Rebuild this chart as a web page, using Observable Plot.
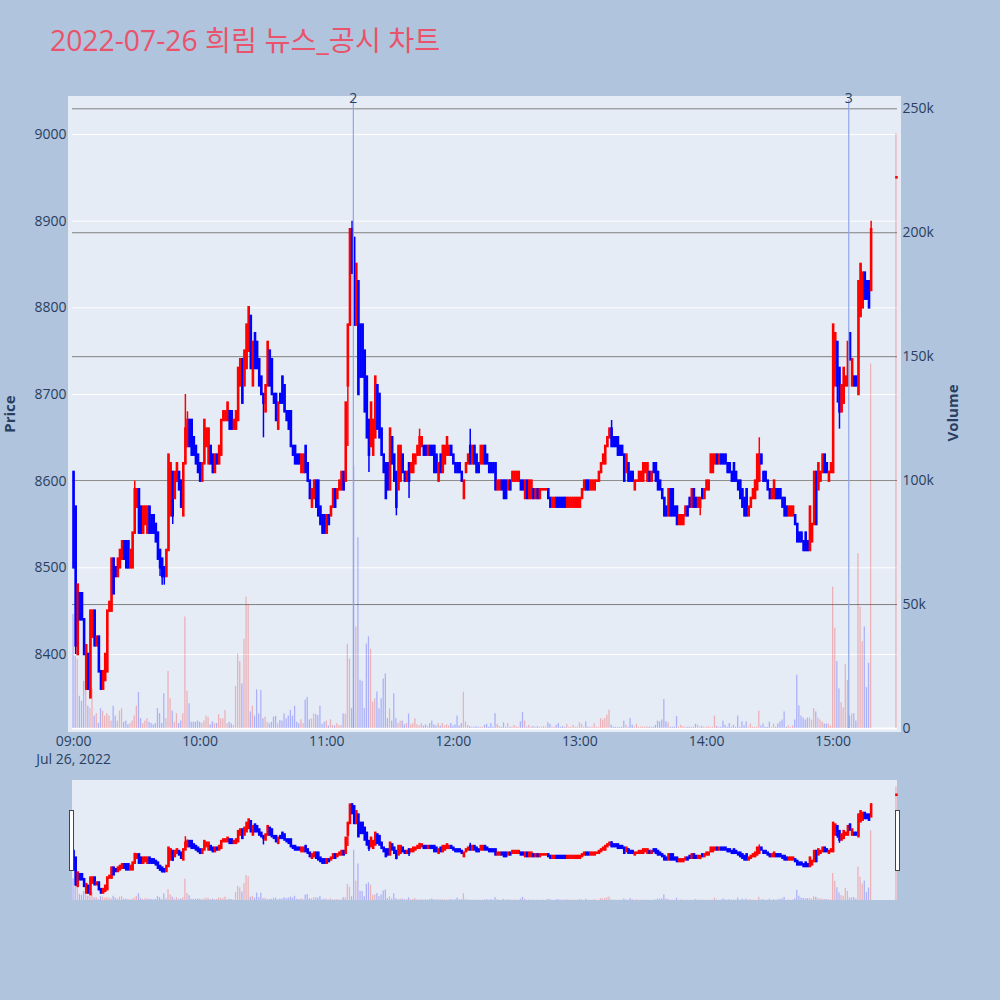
<!DOCTYPE html>
<html><head><meta charset="utf-8">
<script src="https://cdn.jsdelivr.net/npm/d3@7"></script>
<script src="https://cdn.jsdelivr.net/npm/@observablehq/plot@0.6"></script>
<style>
body{margin:0;background:#B0C4DE;}
#page{position:relative;width:1000px;height:1000px;overflow:hidden;background:#B0C4DE;}
.layer{position:absolute;left:0;top:0;}
.layer svg{display:block;overflow:visible;}
.box{position:absolute;}
</style></head>
<body><div id="page"></div>
<script>
// ---- data (minute index from 09:00) ----
const opens = [
8610,8570,8400,8470,8470,8440,8360,8400,8350,8420,
8450,8410,8420,8380,8360,8370,8380,8450,8450,8510,
8500,8490,8500,8510,8530,8530,8530,8500,8500,8540,
8570,8590,8570,8540,8550,8540,8570,8560,8560,8550,
8540,8520,8510,8500,8490,8520,8560,8610,8580,8600,
8610,8600,8560,8620,8640,8670,8670,8650,8640,8630,
8620,8600,8620,8640,8620,8640,8630,8610,8630,8620,
8630,8670,8670,8670,8680,8680,8660,8660,8670,8710,
8740,8710,8730,8750,8790,8710,8770,8760,8740,8720,
8700,8680,8710,8750,8740,8700,8700,8660,8700,8720,
8710,8680,8680,8680,8640,8640,8630,8630,8610,8610,
8640,8620,8600,8570,8580,8600,8600,8570,8560,8560,
8540,8560,8560,8570,8590,8580,8590,8590,8610,8600,
8710,8780,8890,8880,8780,8830,8780,8780,8750,8720,
8670,8640,8630,8650,8710,8700,8660,8630,8620,8620,
8590,8650,8630,8610,8590,8600,8630,8610,8600,8620,
8610,8610,8620,8630,8630,8640,8640,8640,8630,8640,
8640,8640,8630,8600,8630,8610,8620,8630,8630,8640,
8630,8620,8620,8620,8610,8580,8610,8620,8640,8620,
8640,8630,8620,8620,8620,8640,8630,8620,8620,8620,
8620,8590,8590,8600,8600,8600,8590,8600,8600,8600,
8600,8600,8600,8600,8580,8600,8580,8580,8590,8580,
8590,8580,8590,8590,8590,8590,8580,8570,8570,8580,
8580,8580,8580,8580,8570,8570,8570,8570,8570,8570,
8570,8580,8590,8600,8600,8590,8590,8590,8600,8600,
8610,8620,8620,8640,8650,8660,8650,8650,8650,8640,
8640,8630,8610,8620,8610,8610,8590,8600,8600,8600,
8600,8610,8600,8610,8600,8620,8620,8610,8600,8590,
8580,8570,8560,8590,8590,8570,8570,8550,8550,8550,
8560,8570,8580,8570,8590,8580,8570,8570,8590,8580,
8590,8590,8610,8610,8620,8630,8620,8630,8630,8630,
8620,8620,8610,8620,8610,8600,8600,8590,8580,8590,
8560,8570,8580,8580,8590,8600,8630,8610,8610,8600,
8590,8580,8580,8590,8590,8590,8580,8580,8570,8560,
8560,8560,8560,8550,8540,8540,8530,8540,8530,8520,
8530,8550,8610,8590,8600,8610,8630,8620,8600,8610,
8610,8710,8760,8730,8680,8690,8710,8710,8770,8710,
8720,8720,8700,8790,8800,8840,8830,8830,8820];
const closes = [
8500,8410,8480,8440,8440,8400,8410,8360,8450,8450,
8410,8420,8380,8360,8380,8400,8450,8460,8510,8470,
8490,8510,8520,8530,8510,8500,8500,8520,8540,8590,
8590,8540,8540,8570,8570,8570,8540,8540,8540,8530,
8510,8500,8490,8490,8520,8630,8620,8560,8610,8620,
8590,8570,8620,8660,8670,8640,8630,8630,8620,8610,
8600,8620,8670,8660,8660,8620,8610,8630,8620,8640,
8670,8680,8680,8690,8660,8660,8670,8680,8730,8740,
8690,8750,8780,8800,8730,8760,8730,8730,8710,8700,
8690,8710,8760,8710,8700,8690,8670,8690,8690,8690,
8680,8670,8660,8640,8630,8620,8620,8620,8630,8630,
8610,8600,8580,8590,8600,8570,8560,8550,8540,8540,
8560,8550,8570,8590,8570,8590,8600,8610,8590,8690,
8780,8890,8840,8780,8850,8700,8720,8720,8680,8650,
8630,8690,8670,8720,8660,8650,8630,8610,8580,8590,
8660,8620,8600,8570,8640,8640,8610,8600,8610,8600,
8620,8630,8630,8640,8650,8650,8630,8630,8640,8630,
8630,8610,8610,8620,8610,8640,8640,8650,8640,8630,
8620,8610,8610,8610,8600,8600,8620,8630,8620,8640,
8620,8610,8610,8640,8640,8620,8620,8610,8610,8610,
8590,8600,8600,8590,8580,8580,8600,8590,8610,8610,
8610,8610,8590,8590,8600,8580,8600,8600,8580,8590,
8580,8590,8590,8590,8590,8580,8570,8580,8580,8570,
8570,8570,8570,8570,8580,8580,8580,8580,8580,8580,
8580,8590,8600,8590,8590,8600,8600,8600,8600,8610,
8620,8630,8640,8650,8660,8640,8640,8640,8630,8630,
8630,8600,8630,8600,8600,8600,8600,8600,8610,8610,
8620,8620,8620,8600,8610,8610,8600,8590,8590,8580,
8560,8560,8590,8560,8560,8560,8550,8560,8560,8560,
8570,8560,8570,8590,8570,8570,8580,8580,8580,8590,
8600,8600,8630,8630,8630,8620,8630,8620,8620,8620,
8610,8610,8600,8600,8600,8590,8580,8570,8560,8560,
8570,8580,8590,8600,8630,8630,8620,8600,8600,8590,
8580,8590,8600,8580,8580,8580,8570,8560,8560,8570,
8570,8570,8550,8530,8530,8530,8520,8520,8520,8570,
8550,8610,8550,8620,8610,8630,8610,8610,8610,8620,
8780,8770,8710,8680,8710,8730,8720,8760,8740,8740,
8710,8710,8830,8850,8840,8810,8810,8800,8890];
// [minute, high, low] where the wick goes beyond the body
const wicks = [
[1,8570,8400],[8,8450,8350],[29,8600,8540],[41,8520,8490],[42,8510,8480],[43,8500,8480],
[47,8610,8550],[53,8700,8620],[54,8680,8640],[90,8700,8650],[130,8780,8640],[132,8900,8840],
[140,8670,8610],[153,8610,8560],[159,8620,8580],[164,8660,8630],[188,8660,8620],[255,8670,8640],
[297,8580,8560],[325,8650,8600],[362,8760,8690],[363,8730,8660],[378,8900,8820]];
// volume in thousands of shares
const volK = [
46,29,28,13,11,19,19,9,8,16,
5,6,2,8,7,5,6,5,3,9,
5,3,7,8,2.5,3,1.5,2,3,5,
9,14.5,4,2,3,4,2.5,2,1.5,2,
8,6,2,14,4,23,12,7,2.5,6,
2,3,6,45,15,10,2.5,2.5,2.5,3,
2.5,2,3,5,4.5,1.5,2.7,1.9,2,5.6,
3.9,3.9,7.3,1.9,2.5,1.9,1.2,17,30,27,
18,36,53,50,6.7,9,5,15.6,5.9,15.3,
3.9,4.6,2.5,1.9,2.5,4.6,4.9,1.9,3.2,3,
5.9,3.9,5,7.3,5,9,2.5,1.9,3.5,2,
11.5,12.6,3.5,3.9,5.9,5.6,5.2,9,1.6,2.5,
3,1,3.5,1.2,1,2,1.2,1.2,5.9,5.8,
34,28,8,106,41,77,19.5,19,8,34,
37,32,10.6,12,14.7,7.9,12,20,22,4,
7.9,3,14,4,2,3,3,1.5,2,5.8,
1.5,2,4,1.5,1,2,1,1.5,1,2,
3,1.5,1,2,1,2,1,1.5,1,2,
1,1.5,5,1,2,14.6,2.7,1.3,0.8,0.5,
0.5,0.7,0.5,0.5,0.5,1.3,1.7,0.5,2,0.5,
6,1.7,0.8,0.5,2.3,0.5,2,0.5,0.5,1.3,
0.7,0.5,2.7,6.4,3,0.5,1.3,0.5,0.8,0.5,
0.7,0.5,0.5,0.8,0.5,2.3,1.7,0.5,0.5,1.3,
2,0.5,0.8,0.5,1.7,0.5,0.5,1.3,0.5,0.5,
2.3,1.7,0.5,2.7,0.5,0.5,0.5,2,0.5,0.5,
4,3.4,4,5.4,7.4,1.3,0.5,0.5,0.4,0.5,
0.5,3,1.3,0.5,4,1.3,0.5,1.7,0.5,0.5,
0.7,0.5,0.7,0.5,0.5,0.5,1.3,3,2.7,3.4,
11.7,2.7,2.3,0.5,0.5,0.5,4.8,0.5,1.3,0.8,
0.5,0.5,0.5,0.5,0.5,1.7,1.3,0.5,0.8,0.5,
0.5,0.8,0.5,0.5,5,0.8,0.5,0.5,3,1.3,
0.5,2,0.5,1.3,0.5,5,0.5,2.7,1,2.7,
0.5,1.8,0.5,0.5,0.5,7,1,1.8,0.5,0.5,
2.6,0.5,1.8,0.5,1.8,2.6,3.4,6.7,0.5,1,
0.5,1,3.4,21.5,9.1,5,4.2,3.4,4.2,4.2,
3.4,8,6.7,4.2,3.4,2.6,1.8,1.8,1.8,1,
57,40.5,27,16,10.4,8.3,25.8,19.3,5,5.9,
5.9,3,70.5,49,35,41,16.5,26.3,147];
// closing auction (15:30)
const closingMinute = 390, closingPrice = 8950, closingVolK = 240;
// news markers
const newsMarks = [{label: "2", minute: 132.6}, {label: "3", minute: 367.4}];
// ticks
const priceTicks = [8400, 8500, 8600, 8700, 8800, 8900, 9000];
const volTicks = [0, 50, 100, 150, 200, 250];
const volTickLabels = ["0", "50k", "100k", "150k", "200k", "250k"];
const hourTicks = [0, 60, 120, 180, 240, 300, 360];
const hourLabels = ["09:00", "10:00", "11:00", "12:00", "13:00", "14:00", "15:00"];
const dateLabel = "Jul 26, 2022";
const titleText = "2022-07-26 희림 뉴스_공시 차트";

// ---- build rows ----
const UP = "#FF0000", DOWN = "#0000FF";
const candles = opens.map((o, i) => {
  const c = closes[i];
  const w = wicks.find(k => k[0] === i);
  return {t: i, o, c, hi: w ? w[1] : Math.max(o, c), lo: w ? w[2] : Math.min(o, c), v: volK[i], up: c >= o};
});
candles.push({t: closingMinute, o: closingPrice, c: closingPrice, hi: closingPrice, lo: closingPrice, v: closingVolK, up: true});

const FONT = "'Open Sans', 'Noto Sans CJK KR', sans-serif";
const INK = "#2a3f5f";
const xDomain = [-0.5, 390.5];
const priceDomain = [8314.6, 9039.2];
const volDomain = [0, 253.35];
const page = document.getElementById("page");

function box(l, t, w, h, css) {
  const d = document.createElement("div");
  d.className = "box";
  Object.assign(d.style, {left: l + "px", top: t + "px", width: w + "px", height: h + "px"}, css);
  page.appendChild(d);
}
function place(node, top) {
  const d = document.createElement("div");
  d.className = "layer";
  d.style.top = top + "px";
  d.appendChild(node);
  page.appendChild(d);
}
function cfg(h, mt, mb, ydom, marks) {
  return {
    width: 1000, height: h, marginTop: mt, marginBottom: mb, marginLeft: 72, marginRight: 103,
    style: {background: "transparent", fontFamily: FONT, color: INK, overflow: "visible"},
    x: {domain: xDomain, axis: null}, y: {domain: ydom, axis: null},
    marks
  };
}
const colorOf = d => d.up ? UP : DOWN;
const candleMarks = () => [
  Plot.ruleX(candles, {x: "t", y1: "lo", y2: "hi", stroke: colorOf, strokeWidth: 1.5}),
  Plot.ruleX(candles, {x: "t", y1: "o", y2: "c", stroke: colorOf, strokeWidth: 2.6, strokeLinecap: "square"})
];
const volumeMarks = () => [
  Plot.rect(candles, {x1: d => d.t - 0.3, x2: d => d.t + 0.3, y1: 0, y2: "v", fill: colorOf, fillOpacity: 0.25})
];

// main background
box(68, 96, 833, 636, {background: "#E5ECF6"});

// layer A: price grid + axes
place(Plot.plot(cfg(780, 100, 52, priceDomain, [
  Plot.ruleY(priceTicks, {stroke: "white", strokeWidth: 1}),
  Plot.axisY(priceTicks, {anchor: "left", tickSize: 0, tickPadding: 6, fontSize: 14, label: null, tickFormat: d => String(d)}),
  Plot.axisX(hourTicks, {anchor: "bottom", tickSize: 0, tickPadding: 8, fontSize: 14, label: null,
    tickFormat: d => hourLabels[hourTicks.indexOf(d)]}),
  Plot.text([hourTicks[0]], {x: d => d, text: [dateLabel], frameAnchor: "bottom", lineAnchor: "middle", dy: 31, fontSize: 14, fill: INK})
])), 0);

// layer B: volume grid, bars, right axis
place(Plot.plot(cfg(780, 100, 52, volDomain, [
  Plot.ruleY(volTicks.filter(v => v > 0), {stroke: "#808080", strokeWidth: 1}),
  Plot.ruleY([0], {stroke: "white", strokeWidth: 2}),
  ...volumeMarks(),
  Plot.axisY(volTicks, {anchor: "right", tickSize: 0, tickPadding: 5, fontSize: 14, label: null,
    tickFormat: d => volTickLabels[volTicks.indexOf(d)]})
])), 0);

// layer C: candles + news markers
place(Plot.plot(cfg(780, 100, 52, priceDomain, [
  ...candleMarks(),
  Plot.ruleX(newsMarks, {x: "minute", stroke: "#8FA6E6", strokeWidth: 1.2}),
  Plot.text(newsMarks, {x: "minute", text: "label", frameAnchor: "top", lineAnchor: "bottom", dy: 2, fontSize: 14, fill: INK})
])), 0);

// range slider
box(72, 780, 825, 120, {background: "#E5ECF6"});
place(Plot.plot(cfg(120, 0, 0, volDomain, volumeMarks())), 780);
place(Plot.plot(cfg(120, 0, 0, priceDomain, candleMarks())), 780);
box(69, 810, 3, 59, {background: "white", border: "1px solid #444"});
box(895, 810, 3, 59, {background: "white", border: "1px solid #444"});

// title and axis titles
const ov = d3.select(page).append("svg").attr("width", 1000).attr("height", 1000)
  .style("position", "absolute").style("left", 0).style("top", 0).style("pointer-events", "none")
  .style("font-family", FONT);
ov.append("text").attr("x", 50).attr("y", 50.5).attr("font-size", 28.3).attr("fill", "#E9536B").text(titleText);
ov.append("text").attr("transform", "translate(9.5,414) rotate(-90)").attr("text-anchor", "middle").attr("dy", "0.35em")
  .attr("font-size", 15).attr("font-weight", "bold").attr("fill", INK).text("Price");
ov.append("text").attr("transform", "translate(953,413) rotate(-90)").attr("text-anchor", "middle").attr("dy", "0.35em")
  .attr("font-size", 15).attr("font-weight", "bold").attr("fill", INK).text("Volume");
</script>
</body></html>
